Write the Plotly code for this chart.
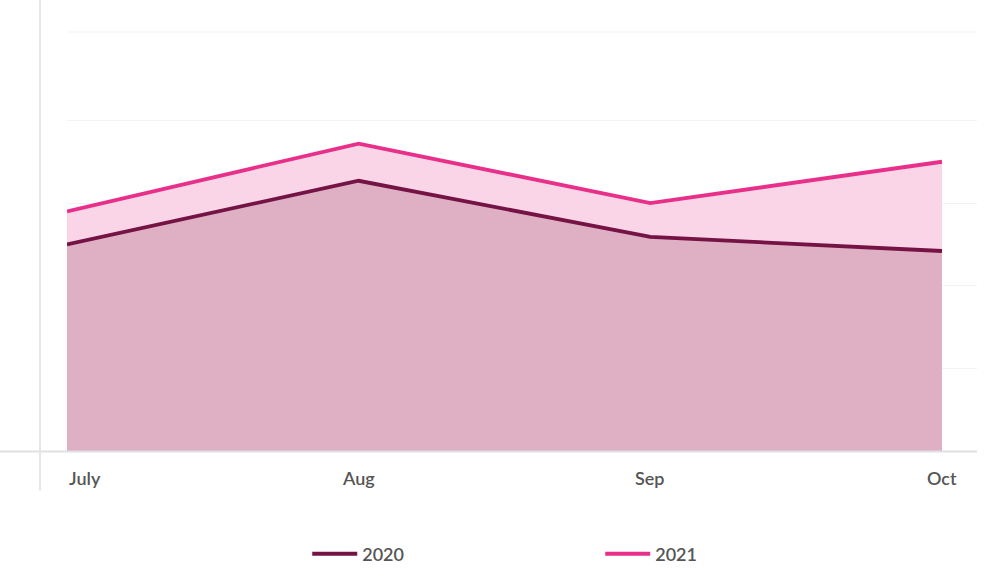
import plotly.graph_objects as go

months = ["July", "Aug", "Sep", "Oct"]
sales_2020 = [25.0, 32.7, 25.9, 24.2]
sales_2021 = [29.0, 37.2, 30.0, 35.0]
grid_vals = [10, 20, 30, 40]

color_2020 = "#741344"
color_2021 = "#e8308a"

fig = go.Figure()

# 2021 drawn first so the 2020 area sits on top of it
fig.add_trace(go.Scatter(
    x=list(range(len(months))), y=sales_2021, name="2021", mode="lines",
    line=dict(color=color_2021, width=3.8), fill="tozeroy", fillcolor="#f9d5e7",
    cliponaxis=False, showlegend=False,
))
fig.add_trace(go.Scatter(
    x=list(range(len(months))), y=sales_2020, name="2020", mode="lines",
    line=dict(color=color_2020, width=3.8), fill="tozeroy", fillcolor="#dfafc4",
    cliponaxis=False, showlegend=False,
))

# legend entries: plain lines, no fill box
fig.add_trace(go.Scatter(x=[None], y=[None], name="2020", mode="lines",
                         line=dict(color=color_2020, width=4)))
fig.add_trace(go.Scatter(x=[None], y=[None], name="2021", mode="lines",
                         line=dict(color=color_2021, width=4)))

# month labels (first one left aligned like the original)
for i, m in enumerate(months):
    fig.add_annotation(
        x=i, y=0, xref="x", yref="y", text=m, showarrow=False,
        xanchor="left" if i == 0 else "center", yanchor="top", yshift=-14,
        font=dict(family="Lato", size=18, color="#555555", weight=600),
    )

# top grid line at the edge of the plot
fig.add_shape(type="line", xref="paper", yref="paper", x0=0, x1=1, y0=1, y1=1,
              line=dict(color="#f3f3f3", width=1))
# axis lines extending past the plot area
fig.add_shape(type="line", xref="paper", yref="paper", x0=-0.0736, x1=1.0, y0=-0.001, y1=-0.001,
              line=dict(color="#e0e0e0", width=2))
fig.add_shape(type="line", xref="paper", yref="paper", x0=-0.0297, x1=-0.0297, y0=-0.094, y1=1.08,
              line=dict(color="#e6e6e6", width=2))

fig.update_layout(
    width=1000, height=584,
    margin=dict(l=67, r=23, t=32, b=129),
    paper_bgcolor="white", plot_bgcolor="white",
    font=dict(family="Lato", size=18, color="#555555"),
    showlegend=True,
    legend=dict(
        orientation="h", x=0.264, xanchor="left", y=-0.246, yanchor="middle",
        entrywidth=233, entrywidthmode="pixels", itemwidth=45, traceorder="normal",
        font=dict(family="Lato", size=18, color="#555555", weight=600),
    ),
    xaxis=dict(range=[0, 3.12], showgrid=False, zeroline=False, showticklabels=False, showline=False),
    yaxis=dict(range=[0, 50.7], tickvals=grid_vals, showticklabels=False, gridcolor="#f3f3f3",
               gridwidth=1, zeroline=False, showline=False),
)

page_fix = (
    "document.documentElement.style.margin='0';"
    "document.documentElement.style.overflow='hidden';"
    "document.body.style.margin='0';"
    "document.body.style.height='584px';"
    "document.body.style.overflow='hidden';"
)
fig.write_html("out.html", config={"displayModeBar": False}, post_script=page_fix)
